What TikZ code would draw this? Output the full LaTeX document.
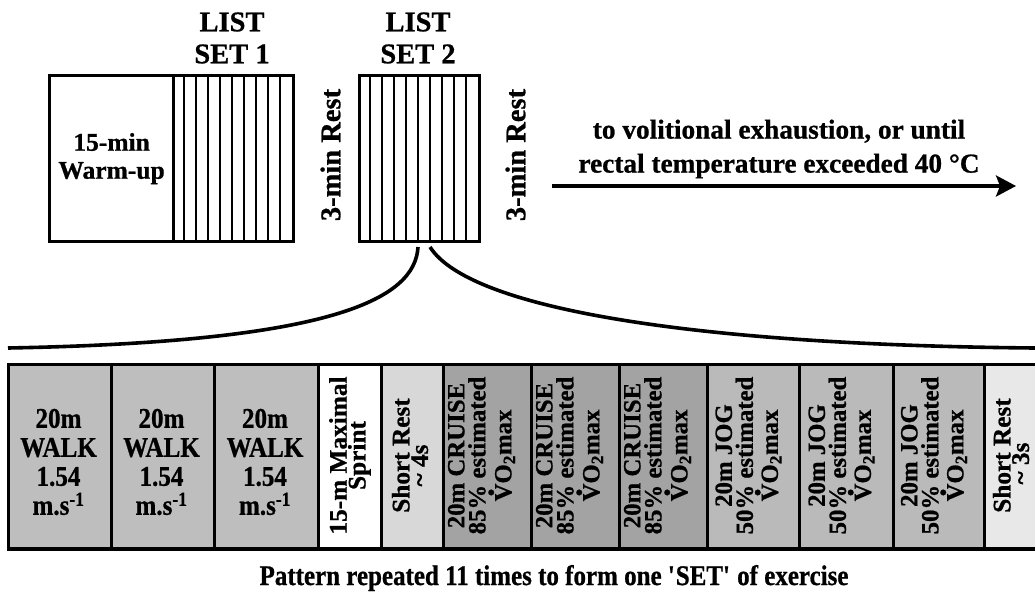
\documentclass[tikz,border=0pt]{standalone}
\usepackage{fontspec}
\setmainfont{Liberation Serif}[BoldFeatures={FakeBold=0.8}]
\newfontfamily\tallfont{Liberation Serif}[FakeStretch=0.88, BoldFeatures={FakeBold=0.8}]
\usetikzlibrary{arrows.meta}
\definecolor{walkc}{RGB}{190,190,190}
\definecolor{restA}{RGB}{216,216,216}
\definecolor{cruisec}{RGB}{163,163,163}
\definecolor{jogc}{RGB}{186,186,186}
\definecolor{restB}{RGB}{232,232,232}
\newcommand\Vdt{\leavevmode\hbox{\ooalign{V\cr\hidewidth\raisebox{0.72em}{\scalebox{1.4}{.}}\hidewidth\cr}}}
\begin{document}
\begin{tikzpicture}[x=1pt,y=-1pt,
  box/.style={draw, line width=3.2pt, inner sep=0pt, anchor=north west},
  big/.style={font=\bfseries\fontsize{28.5}{32}\selectfont, align=center, inner sep=0pt},
  mid/.style={font=\bfseries\fontsize{25.5}{28}\selectfont, align=center, inner sep=0pt},
  cell/.style={draw, line width=2.6pt, inner sep=0pt, minimum height=185pt, anchor=north west},
  walktxt/.style={font=\tallfont\bfseries\fontsize{28.5}{29}\selectfont, align=center, inner sep=0pt},
  rottxt/.style={font=\bfseries\fontsize{24.8}{21}\selectfont, align=center, inner sep=0pt, rotate=90},
  curve/.style={line width=3.6pt},
  stripe/.style={line width=2.8pt}]
\useasboundingbox (0,0) rectangle (1035,613);

% top boxes
\node[box, mid, minimum width=124pt, minimum height=166pt] (warm) at (48,74) {15-min\\Warm-up};
\node[box, minimum width=120pt, minimum height=166pt] (set1) at (172,74) {};
\node[box, minimum width=120pt, minimum height=166pt] (set2) at (358,74) {};
\foreach \i in {1,...,9} {
  \draw[stripe] (172+12*\i,74) -- (172+12*\i,240);
  \draw[stripe] (358+12*\i,74) -- (358+12*\i,240);
}
\node[big] (list1) at (232,38) {LIST\\SET 1};
\node[big] (list2) at (418,38) {LIST\\SET 2};
\node[big, rotate=90] (rest1) at (330.5,155) {3-min Rest};
\node[big, rotate=90] (rest2) at (515.5,155) {3-min Rest};

% arrow
\coordinate (a0) at (552,186);
\coordinate (a1) at (1016,186);
\draw[line width=3.5pt, -{Stealth[length=20pt, width=21pt, inset=4pt]}] (a0) -- (a1);
\node[big, font=\bfseries\fontsize{27.3}{34}\selectfont] (atxt) at (779,149)
  {to volitional exhaustion, or until\\rectal temperature exceeded 40 °C};

% curves
\coordinate (c0) at (418,247);
\coordinate (c1) at (8,348);
\coordinate (c2) at (430,247);
\coordinate (c3) at (1035,348);
\draw[curve] (c0) .. controls (415,300) and (330,342) .. (c1);
\draw[curve] (c2) .. controls (470,310) and (700,345) .. (c3);

% strip
\begin{scope}
\clip (0,0) rectangle (1035,613);
\node[cell, fill=walkc, minimum width=103pt] (w1) at (7,363) {};
\node[cell, fill=walkc, minimum width=103pt] (w2) at (110,363) {};
\node[cell, fill=walkc, minimum width=104pt] (w3) at (213,363) {};
\node[cell, fill=white, minimum width=63pt] (sp) at (317,363) {};
\node[cell, fill=restA, minimum width=62pt] (ra) at (380,363) {};
\node[cell, fill=cruisec, minimum width=88pt] (cr1) at (442,363) {};
\node[cell, fill=cruisec, minimum width=88pt] (cr2) at (530,363) {};
\node[cell, fill=cruisec, minimum width=88pt] (cr3) at (618,363) {};
\node[cell, fill=jogc, minimum width=92pt] (jg1) at (706,363) {};
\node[cell, fill=jogc, minimum width=94pt] (jg2) at (798,363) {};
\node[cell, fill=jogc, minimum width=91pt] (jg3) at (892,363) {};
\node[cell, fill=restB, minimum width=62pt] (rb) at (983,363) {};
\draw[line width=3pt] (7,548) -- (1040,548);
\end{scope}

\node[walktxt] (tw1) at (58.5,462) {20m\\WALK\\1.54\\m.s\textsuperscript{-1}};
\node[walktxt] (tw2) at (161.5,462) {20m\\WALK\\1.54\\m.s\textsuperscript{-1}};
\node[walktxt] (tw3) at (265,462) {20m\\WALK\\1.54\\m.s\textsuperscript{-1}};
\node[rottxt, font=\bfseries\fontsize{25.3}{14}\selectfont] (tsp) at (350,455.5) {15-m Maximal\\Sprint};
\node[rottxt, font=\bfseries\fontsize{25.3}{18.5}\selectfont] (tra) at (410,455.5) {Short Rest\\\textasciitilde{} 4s\hspace*{20pt}};
\node[rottxt] (tc1) at (481.5,455.5) {20m CRUISE\\85\% estimated\\[5pt]\Vdt O\textsubscript{2}max};
\node[rottxt] (tc2) at (569.5,455.5) {20m CRUISE\\85\% estimated\\[5pt]\Vdt O\textsubscript{2}max};
\node[rottxt] (tc3) at (657.5,455.5) {20m CRUISE\\85\% estimated\\[5pt]\Vdt O\textsubscript{2}max};
\node[rottxt] (tj1) at (748.5,455.5) {20m JOG\\50\% estimated\\[4pt]\Vdt O\textsubscript{2}max};
\node[rottxt] (tj2) at (841.5,455.5) {20m JOG\\50\% estimated\\[4pt]\Vdt O\textsubscript{2}max};
\node[rottxt] (tj3) at (934,455.5) {20m JOG\\50\% estimated\\[4pt]\Vdt O\textsubscript{2}max};
\node[rottxt, font=\bfseries\fontsize{25.3}{18.5}\selectfont] (trb) at (1011,455.5) {Short Rest\\\textasciitilde{} 3s\hspace*{16pt}};

\node[font=\tallfont\bfseries\fontsize{28.4}{30}\selectfont, anchor=base, inner sep=0pt] (pat) at (554,585)
  {Pattern repeated 11 times to form one \textquotesingle SET\textquotesingle{} of exercise};
\end{tikzpicture}
\end{document}
